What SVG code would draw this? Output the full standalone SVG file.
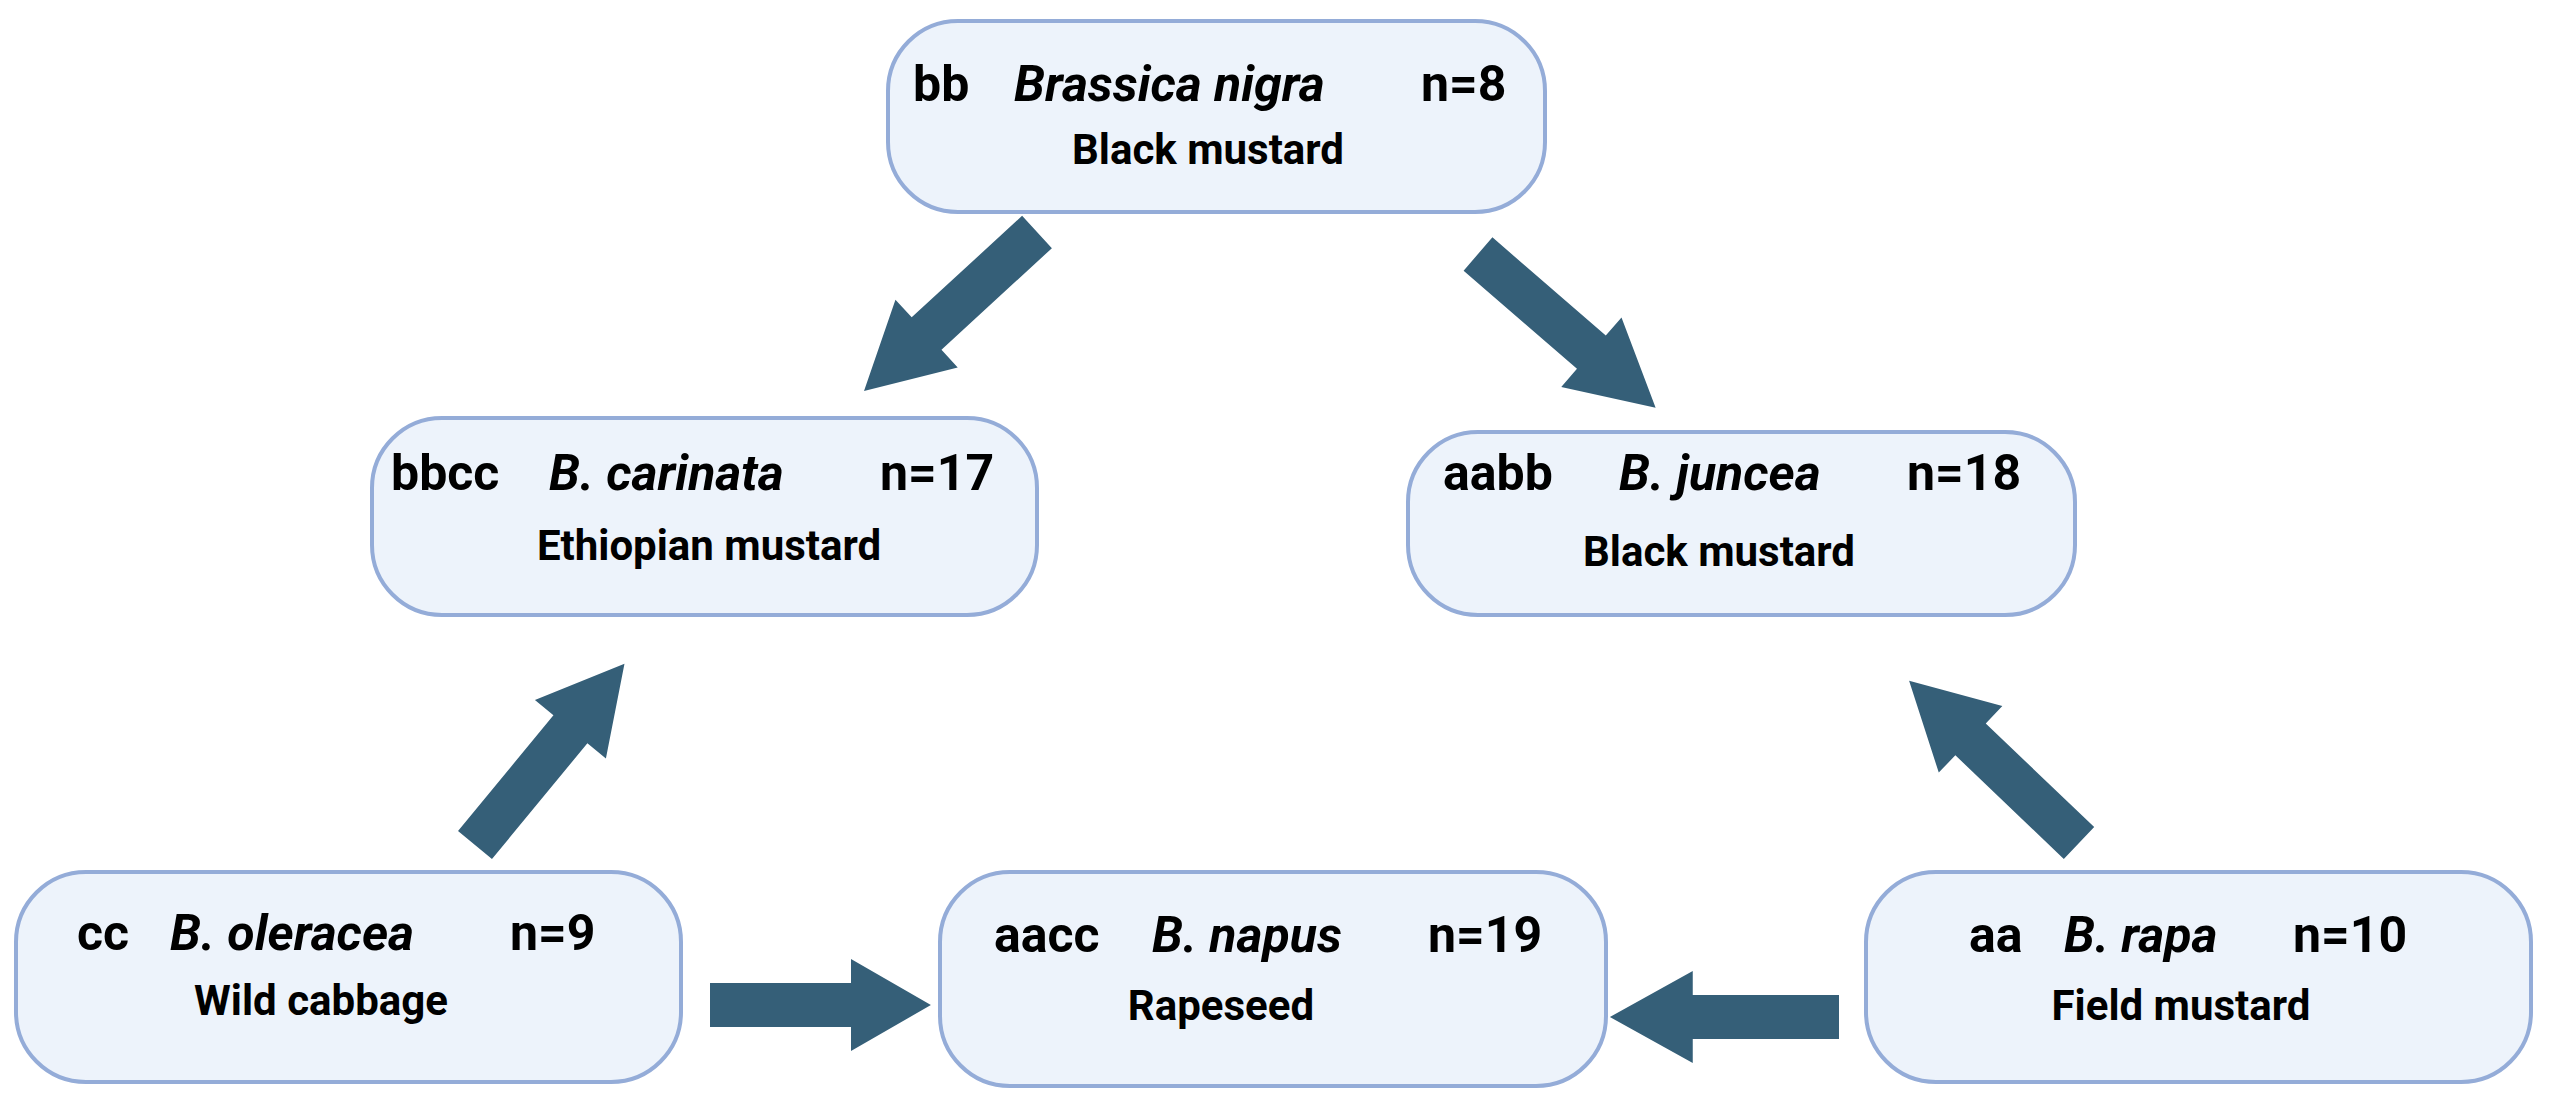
<svg xmlns="http://www.w3.org/2000/svg" xmlns:xlink="http://www.w3.org/1999/xlink" width="2555" height="1110" viewBox="0 0 2555 1110">
<style>
.box{fill:#edf3fb;stroke:#94acd8;stroke-width:4}
.t1{font-family:Roboto,"Liberation Sans",sans-serif;font-weight:bold;font-size:50px;fill:#000}
.t2{font-family:Roboto,"Liberation Sans",sans-serif;font-weight:bold;font-size:42px;fill:#000;text-anchor:middle}
.i{font-style:italic}
.arr{fill:#355f78}
</style>
<defs>
<polygon id="arr" points="0,-22 150,-22 150,-46 235,0 150,46 150,22 0,22"/>
</defs>
<rect width="2555" height="1110" fill="#fff"/>
<g id="connectors" class="arr">
<use xlink:href="#arr" href="#arr" transform="translate(1037,232) rotate(137.4)"/>
<use xlink:href="#arr" href="#arr" transform="translate(1478,254) rotate(40.9)"/>
<use xlink:href="#arr" href="#arr" transform="translate(475,845) rotate(-50.5)"/>
<use xlink:href="#arr" href="#arr" transform="translate(2079,843) rotate(-136.3)"/>
<use xlink:href="#arr" href="#arr" transform="translate(710,1005) scale(0.94,1)"/>
<use xlink:href="#arr" href="#arr" transform="translate(1839,1017) rotate(180) scale(0.975,1)"/>
</g>
<g id="nigra">
<rect class="box" x="888" y="21" width="657" height="191" rx="70"/>
<text class="t1" y="101"><tspan x="913">bb</tspan><tspan class="i" x="1014">Brassica nigra</tspan><tspan x="1421">n=8</tspan></text>
<text class="t2" x="1208" y="164">Black mustard</text>
</g>
<g id="carinata">
<rect class="box" x="372" y="418" width="665" height="197" rx="70"/>
<text class="t1" y="490"><tspan x="391">bbcc</tspan><tspan class="i" x="549">B. carinata</tspan><tspan x="880">n=17</tspan></text>
<text class="t2" x="709" y="560">Ethiopian mustard</text>
</g>
<g id="juncea">
<rect class="box" x="1408" y="432" width="667" height="183" rx="70"/>
<text class="t1" y="490"><tspan x="1443">aabb</tspan><tspan class="i" x="1619">B. juncea</tspan><tspan x="1907">n=18</tspan></text>
<text class="t2" x="1719" y="566">Black mustard</text>
</g>
<g id="oleracea">
<rect class="box" x="16" y="872" width="665" height="210" rx="70"/>
<text class="t1" y="950"><tspan x="77">cc</tspan><tspan class="i" x="170">B. oleracea</tspan><tspan x="510">n=9</tspan></text>
<text class="t2" x="321" y="1015">Wild cabbage</text>
</g>
<g id="napus">
<rect class="box" x="940" y="872" width="666" height="214" rx="70"/>
<text class="t1" y="952"><tspan x="994">aacc</tspan><tspan class="i" x="1152">B. napus</tspan><tspan x="1428">n=19</tspan></text>
<text class="t2" x="1221" y="1020">Rapeseed</text>
</g>
<g id="rapa">
<rect class="box" x="1866" y="872" width="665" height="210" rx="70"/>
<text class="t1" y="952"><tspan x="1969">aa</tspan><tspan class="i" x="2064">B. rapa</tspan><tspan x="2293">n=10</tspan></text>
<text class="t2" x="2181" y="1020">Field mustard</text>
</g>
</svg>
